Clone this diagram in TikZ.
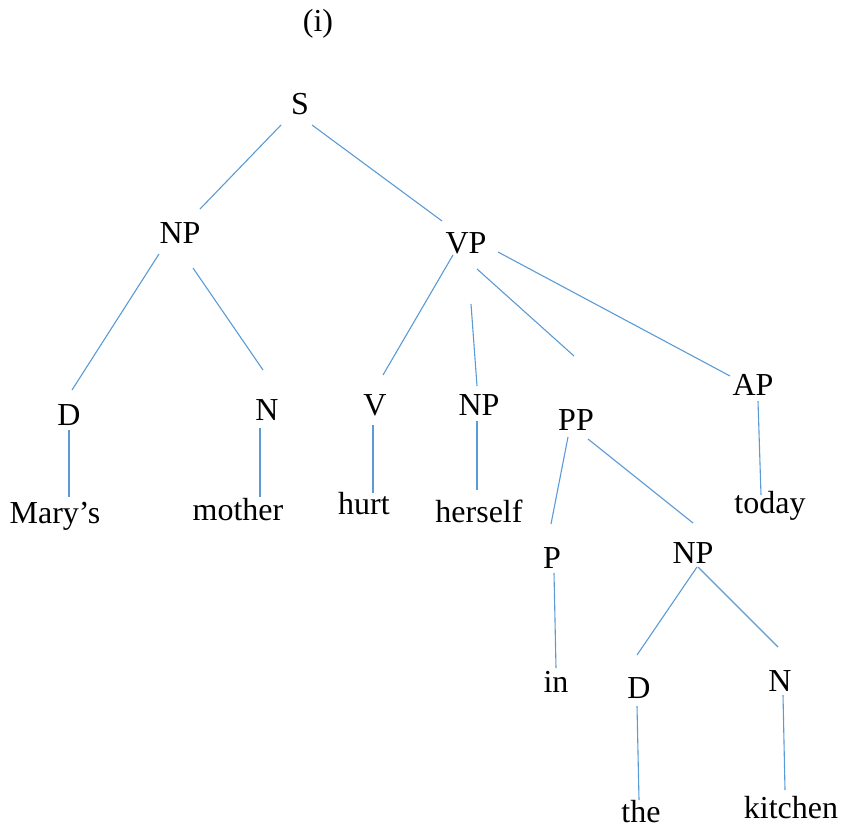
\documentclass[tikz,border=0pt]{standalone}
\usepackage{fontspec}
\setmainfont{Liberation Serif}
\definecolor{edgeblue}{RGB}{91,155,213}
\tikzset{
  lbl/.style={anchor=base,inner sep=0pt,font=\fontsize{32}{38}\selectfont},
  edge/.style={draw=edgeblue,line width=1.1pt}
}
\begin{document}
\begin{tikzpicture}[x=1pt,y=-1pt]
\useasboundingbox (0,0) rectangle (843,829);
% labels
\node[lbl] (title) at (318,32) {(i)};
\node[lbl] (S) at (300,115) {S};
\node[lbl] (NP) at (180,243) {NP};
\node[lbl] (VP) at (466,253) {VP};
\node[lbl] (D) at (69,425) {D};
\node[lbl] (N) at (267,420) {N};
\node[lbl] (marys) at (55,523) {Mary’s};
\node[lbl] (mother) at (238,520) {mother};
\node[lbl] (V) at (375,415) {V};
\node[lbl] (NPb) at (479,415) {NP};
\node[lbl] (PP) at (576,430) {PP};
\node[lbl] (AP) at (753,395) {AP};
\node[lbl] (hurt) at (364,514) {hurt};
\node[lbl] (herself) at (479,522) {herself};
\node[lbl] (today) at (770,513) {today};
\node[lbl] (P) at (552,568) {P};
\node[lbl] (NPc) at (693,563) {NP};
\node[lbl] (in) at (556,692) {in};
\node[lbl] (Dc) at (639,698) {D};
\node[lbl] (Nc) at (780,691) {N};
\node[lbl] (the) at (641,822) {the};
\node[lbl] (kitchen) at (791,818) {kitchen};
% connector end points
\coordinate (S-NP-a) at (281,125);   \coordinate (S-NP-b) at (200,209);
\coordinate (S-VP-a) at (312,125);   \coordinate (S-VP-b) at (442,221);
\coordinate (NP-D-a) at (159,254);   \coordinate (NP-D-b) at (72,390);
\coordinate (NP-N-a) at (193,268);   \coordinate (NP-N-b) at (263,370);
\coordinate (D-marys-a) at (69,430); \coordinate (D-marys-b) at (69,497);
\coordinate (N-mother-a) at (260,428); \coordinate (N-mother-b) at (260,497);
\coordinate (VP-V-a) at (453,255);   \coordinate (VP-V-b) at (383,375);
\coordinate (VP-NPb-a) at (471,304); \coordinate (VP-NPb-b) at (477,386);
\coordinate (VP-PP-a) at (477,269);  \coordinate (VP-PP-b) at (574,356);
\coordinate (VP-AP-a) at (498,252);  \coordinate (VP-AP-b) at (730,376);
\coordinate (V-hurt-a) at (373,425); \coordinate (V-hurt-b) at (373,493);
\coordinate (NPb-herself-a) at (477,421); \coordinate (NPb-herself-b) at (477,490);
\coordinate (AP-today-a) at (758,401); \coordinate (AP-today-b) at (761,495);
\coordinate (PP-P-a) at (568,437);   \coordinate (PP-P-b) at (551,524);
\coordinate (PP-NPc-a) at (588,439); \coordinate (PP-NPc-b) at (693,523);
\coordinate (P-in-a) at (554,573);   \coordinate (P-in-b) at (556,668);
\coordinate (NPc-Dc-a) at (697,567); \coordinate (NPc-Dc-b) at (637,655);
\coordinate (NPc-Nc-a) at (698,567); \coordinate (NPc-Nc-b) at (778,647);
\coordinate (Dc-the-a) at (637,706); \coordinate (Dc-the-b) at (639,800);
\coordinate (Nc-kitchen-a) at (783,695); \coordinate (Nc-kitchen-b) at (785,790);
% connectors
\draw[edge] (S-NP-a) -- (S-NP-b);
\draw[edge] (S-VP-a) -- (S-VP-b);
\draw[edge] (NP-D-a) -- (NP-D-b);
\draw[edge] (NP-N-a) -- (NP-N-b);
\draw[edge] (D-marys-a) -- (D-marys-b);
\draw[edge] (N-mother-a) -- (N-mother-b);
\draw[edge] (VP-V-a) -- (VP-V-b);
\draw[edge] (VP-NPb-a) -- (VP-NPb-b);
\draw[edge] (VP-PP-a) -- (VP-PP-b);
\draw[edge] (VP-AP-a) -- (VP-AP-b);
\draw[edge] (V-hurt-a) -- (V-hurt-b);
\draw[edge] (NPb-herself-a) -- (NPb-herself-b);
\draw[edge] (AP-today-a) -- (AP-today-b);
\draw[edge] (PP-P-a) -- (PP-P-b);
\draw[edge] (PP-NPc-a) -- (PP-NPc-b);
\draw[edge] (P-in-a) -- (P-in-b);
\draw[edge] (NPc-Dc-a) -- (NPc-Dc-b);
\draw[edge] (NPc-Nc-a) -- (NPc-Nc-b);
\draw[edge] (Dc-the-a) -- (Dc-the-b);
\draw[edge] (Nc-kitchen-a) -- (Nc-kitchen-b);
\end{tikzpicture}
\end{document}
